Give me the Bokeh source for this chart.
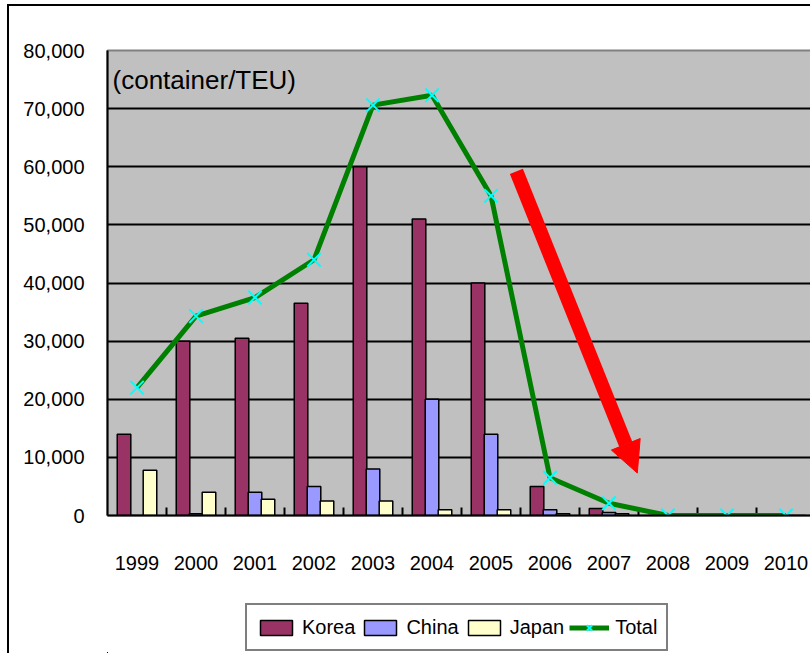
from bokeh.plotting import figure
from bokeh.layouts import column
from bokeh.models import (Range1d, FixedTicker, NumeralTickFormatter,
                          Legend, LegendItem, Label, Arrow, NormalHead)
from bokeh.embed import file_html
from bokeh.resources import INLINE

years = ["1999", "2000", "2001", "2002", "2003", "2004", "2005", "2006", "2007", "2008", "2009", "2010"]
korea = [14000, 30000, 30500, 36500, 60000, 51000, 40000, 5000, 1200, 0, 0, 0]
china = [0, 300, 4000, 5000, 8000, 20000, 14000, 1000, 500, 0, 0, 0]
japan = [7800, 4000, 2800, 2500, 2500, 1000, 1000, 300, 300, 0, 0, 0]
total = [22000, 34300, 37500, 44000, 70600, 72300, 55000, 6500, 2100, 0, 0, 0]
y_ticks = [0, 10000, 20000, 30000, 40000, 50000, 60000, 70000, 80000]
series_names = ["Korea", "China", "Japan", "Total"]
unit_text = "(container/TEU)"
# red trend arrow (data coordinates)
arrow_start = (7.43, 59200)
arrow_end = (9.48, 7300)

FONT = "Liberation Sans"
FS = "20px"
C_KOREA, C_CHINA, C_JAPAN = "#993366", "#9999FF", "#FFFFCC"
C_LINE, C_MARK = "#008000", "#00FFFF"

pos = list(range(1, len(years) + 1))
mids = [i + 0.5 for i in pos[:-1]]
bw = 0.23
off = 0.22
Y_MAX = 80000
tick_len = Y_MAX * 8 / 465  # 8px inward tick between categories


def add_series(fig):
    rk = fig.vbar(x=[i - off for i in pos], top=korea, width=bw, fill_color=C_KOREA,
                  line_color="black", line_width=1.5)
    rc = fig.vbar(x=pos, top=china, width=bw, fill_color=C_CHINA,
                  line_color="black", line_width=1.5)
    rj = fig.vbar(x=[i + off for i in pos], top=japan, width=bw, fill_color=C_JAPAN,
                  line_color="black", line_width=1.5)
    return rk, rc, rj


def add_total(fig):
    rl = fig.line(pos, total, line_color=C_LINE, line_width=5)
    rs = fig.scatter(pos, total, marker="x", size=19, line_color=C_MARK, line_width=2)
    return rl, rs


p = figure(width=803, height=595, output_backend="svg", toolbar_location=None,
           x_range=Range1d(0.5, 12.449), y_range=Range1d(0, Y_MAX),
           min_border_left=98, min_border_top=44, min_border_bottom=86, min_border_right=0)
p.styles = {"margin-left": "7px", "margin-top": "4px",
            "border-left": "2px solid black", "border-top": "2px solid black"}
p.background_fill_color = "#C0C0C0"
p.border_fill_color = "white"
p.outline_line_color = "#808080"
p.outline_line_width = 2

# y axis
p.yaxis.ticker = FixedTicker(ticks=y_ticks)
p.yaxis.formatter = NumeralTickFormatter(format="0,0")
p.yaxis.major_label_text_font = FONT
p.yaxis.major_label_text_font_size = FS
p.yaxis.major_label_text_color = "black"
p.yaxis.major_tick_in = 0
p.yaxis.major_tick_out = 0
p.yaxis.minor_tick_line_color = None
p.yaxis.major_label_standoff = 23
p.yaxis.axis_line_width = 2
p.yaxis.axis_line_color = "black"

# x axis: category labels
p.xaxis.ticker = FixedTicker(ticks=pos)
p.xaxis.major_label_overrides = {i: y for i, y in zip(pos, years)}
p.xaxis.major_tick_line_color = None
p.xaxis.minor_tick_line_color = None
p.xaxis.major_label_standoff = 34
p.xaxis.major_label_text_font = FONT
p.xaxis.major_label_text_font_size = FS
p.xaxis.major_label_text_color = "black"
p.xaxis.axis_line_width = 2
p.xaxis.axis_line_color = "black"

p.xgrid.grid_line_color = None
p.ygrid.ticker = FixedTicker(ticks=y_ticks[:-1])
p.ygrid.grid_line_color = "black"
p.ygrid.grid_line_width = 2

add_series(p)
# inward tick marks between categories
p.segment(x0=mids, y0=[0] * len(mids), x1=mids, y1=[tick_len] * len(mids),
          line_color="black", line_width=2)
add_total(p)

p.add_layout(Arrow(x_start=arrow_start[0], y_start=arrow_start[1],
                   x_end=arrow_end[0], y_end=arrow_end[1],
                   line_color="#FF0000", line_width=14,
                   end=NormalHead(size=31, fill_color="#FF0000", line_color="#FF0000", line_width=1)))

p.add_layout(Label(x=0.585, y=75000, text=unit_text, text_font=FONT,
                   text_font_size="26px", text_baseline="middle", text_color="black"))

# legend strip: separate canvas whose view lies far away from the series,
# so only the legend swatches show
n = len(years)
lp = figure(width=803, height=54, output_backend="svg", toolbar_location=None,
            x_range=Range1d(10 * n, 11 * n), y_range=Range1d(10 * Y_MAX, 11 * Y_MAX),
            x_axis_location=None, y_axis_location=None,
            min_border_left=0, min_border_right=0, min_border_top=0, min_border_bottom=0)
lp.styles = {"margin-left": "7px", "border-left": "2px solid black"}
lp.outline_line_color = None
lp.background_fill_color = "white"
lp.grid.visible = False
lk, lc, lj = add_series(lp)
ll, ls = add_total(lp)

legend = Legend(items=[LegendItem(label=series_names[0], renderers=[lk]),
                       LegendItem(label=series_names[1], renderers=[lc]),
                       LegendItem(label=series_names[2], renderers=[lj]),
                       LegendItem(label=series_names[3], renderers=[ll, ls])],
                orientation="horizontal", location=(138, 2),
                glyph_width=40, glyph_height=19, label_standoff=6, spacing=5,
                padding=9, margin=0, label_height=26,
                label_text_font=FONT, label_text_font_size=FS,
                label_text_color="black", border_line_color="black", border_line_width=2,
                background_fill_color="white", background_fill_alpha=1.0)
lp.add_layout(legend)

layout = column(p, lp, spacing=0)
open("out.html", "w").write(file_html(layout, INLINE))
